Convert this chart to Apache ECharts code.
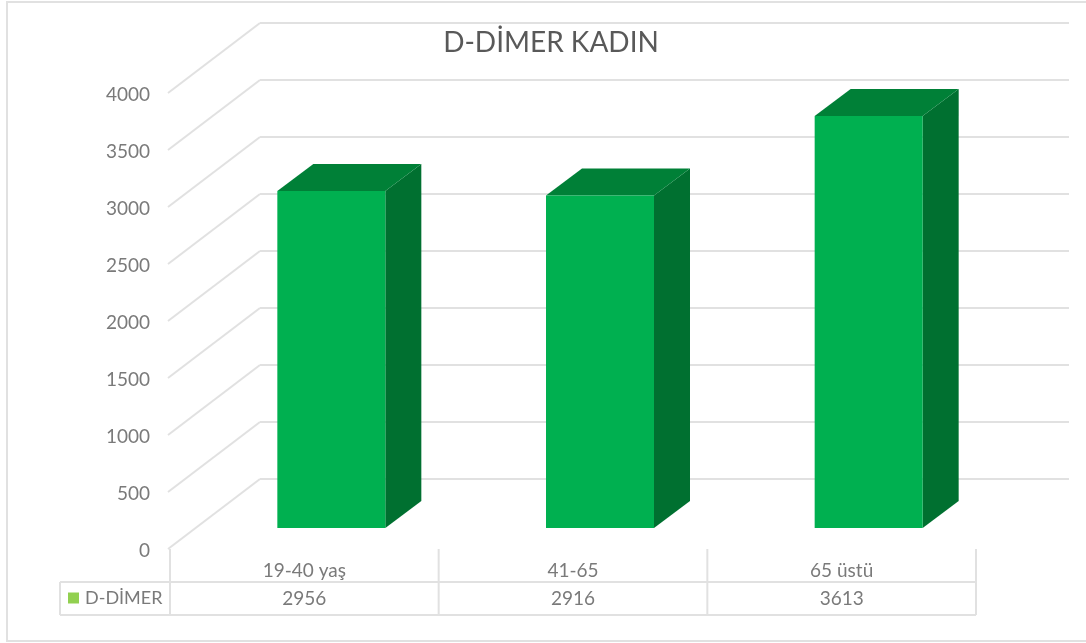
<!DOCTYPE html>
<html>
<head>
<meta charset="utf-8">
<style>
  html, body { margin: 0; padding: 0; background: #fff; }
  #chart { width: 1086px; height: 643px; }
</style>
<script src="https://cdn.jsdelivr.net/npm/echarts@6/dist/echarts.min.js"></script>
</head>
<body>
<div id="chart"></div>
<script>
const categories = ['19-40 yaş', '41-65', '65 üstü']
const values = [2956, 2916, 3613]
const ticks = [0, 500, 1000, 1500, 2000, 2500, 3000, 3500, 4000]
const seriesName = 'D-DİMER'

const fontName = 'Lato'
const textColor = '#7a7a7a'
const lineColor = '#e1e1e1'

// depth of the fake 3d box, in pixels
const wallDx = 92
const wallDy = -70
const barDx = 27
const barDy = -21
const depthDx = 36
const depthDy = -27
const barWidth = 108
const rowH = 33

const chart = echarts.init(document.getElementById('chart'))

const line = (x1, y1, x2, y2) => ({
  type: 'line',
  shape: { x1, y1, x2, y2 },
  style: { stroke: lineColor, lineWidth: 2 }
})

const renderWall = (params, api) => {
  const v = api.value(0)
  const p = api.coord([0, v])
  const left = params.coordSys.x - 2
  const right = params.coordSys.x + params.coordSys.width + wallDx + 1
  return {
    type: 'group',
    children: [
      line(left, p[1], left + wallDx, p[1] + wallDy),
      line(left + wallDx, p[1] + wallDy, right, p[1] + wallDy)
    ]
  }
}

const renderTable = (params, api) => {
  const c = params.coordSys
  const bottom = c.y + c.height
  const band = c.width / categories.length
  const i = api.value(0)
  const children = [line(c.x + band * (i + 1), bottom, c.x + band * (i + 1), bottom + rowH * 2)]
  if (i === 0) {
    children.push(line(c.x, bottom, c.x, bottom + rowH * 2))
    children.push(line(60, bottom + rowH, c.x + c.width, bottom + rowH))
    children.push(line(60, bottom + rowH * 2, c.x + c.width, bottom + rowH * 2))
    children.push(line(60, bottom + rowH, 60, bottom + rowH * 2))
  }
  return { type: 'group', children }
}

const renderBar = (params, api) => {
  const top = api.coord([api.value(0), api.value(1)])
  const base = api.coord([api.value(0), 0])
  const x1 = top[0] + barDx - barWidth / 2
  const x2 = x1 + barWidth
  const y1 = top[1] + barDy
  const y2 = base[1] + barDy
  return {
    type: 'group',
    children: [
      {
        type: 'polygon',
        shape: { points: [[x2, y1], [x2 + depthDx, y1 + depthDy], [x2 + depthDx, y2 + depthDy], [x2, y2]] },
        style: { fill: '#007030' }
      },
      {
        type: 'polygon',
        shape: { points: [[x1, y1], [x1 + depthDx, y1 + depthDy], [x2 + depthDx, y1 + depthDy], [x2, y1]] },
        style: { fill: '#008037' }
      },
      {
        type: 'rect',
        shape: { x: x1, y: y1, width: barWidth, height: y2 - y1 },
        style: { fill: '#00b050' }
      }
    ]
  }
}

chart.setOption({
  animation: false,
  backgroundColor: '#fff',
  textStyle: { fontFamily: fontName },
  title: {
    text: 'D-DİMER KADIN',
    left: 546,
    top: 24,
    textAlign: 'center',
    textStyle: { fontFamily: fontName, fontSize: 28, fontWeight: 'normal', color: '#595959' }
  },
  legend: {
    left: 68,
    top: 589,
    padding: 0,
    itemWidth: 11,
    itemHeight: 11,
    itemGap: 0,
    data: [{ name: seriesName, icon: 'rect', itemStyle: { color: '#92d050' } }],
    textStyle: { fontFamily: fontName, fontSize: 18, color: textColor, padding: [0, 0, 0, 1] }
  },
  graphic: [
    {
      type: 'rect',
      silent: true,
      z: -1,
      shape: { x: 7, y: 2, width: 1090, height: 639 },
      style: { fill: 'none', stroke: lineColor, lineWidth: 2 }
    }
  ],
  grid: { left: 170, right: 110, top: 93, bottom: 94 },
  xAxis: [
    {
      type: 'category',
      data: categories,
      axisLine: { show: false },
      axisTick: { show: false },
      axisLabel: { margin: 12, fontFamily: fontName, fontSize: 19, color: textColor }
    },
    {
      type: 'category',
      position: 'bottom',
      offset: 33,
      data: values.map(String),
      axisLine: { show: false },
      axisTick: { show: false },
      axisLabel: { margin: 7, fontFamily: fontName, fontSize: 19, color: textColor }
    }
  ],
  yAxis: {
    type: 'value',
    min: 0,
    max: 4000,
    interval: 500,
    axisLine: { show: false },
    axisTick: { show: false },
    splitLine: { show: false },
    axisLabel: {
      margin: 20,
      formatter: v => '{t|' + v + '}',
      rich: {
        // nudges the digits down a little from the tick position
        t: { fontFamily: fontName, fontSize: 19, color: textColor, padding: [4, 0, 0, 0] }
      }
    }
  },
  series: [
    {
      type: 'custom',
      name: 'wall',
      silent: true,
      renderItem: renderWall,
      data: ticks.map(t => [t])
    },
    {
      type: 'custom',
      name: 'table',
      silent: true,
      renderItem: renderTable,
      data: categories.map((c, i) => [i])
    },
    {
      type: 'custom',
      name: seriesName,
      itemStyle: { color: '#92d050' },
      renderItem: renderBar,
      encode: { x: 0, y: 1 },
      data: values.map((v, i) => [i, v])
    }
  ]
})
</script>
</body>
</html>
